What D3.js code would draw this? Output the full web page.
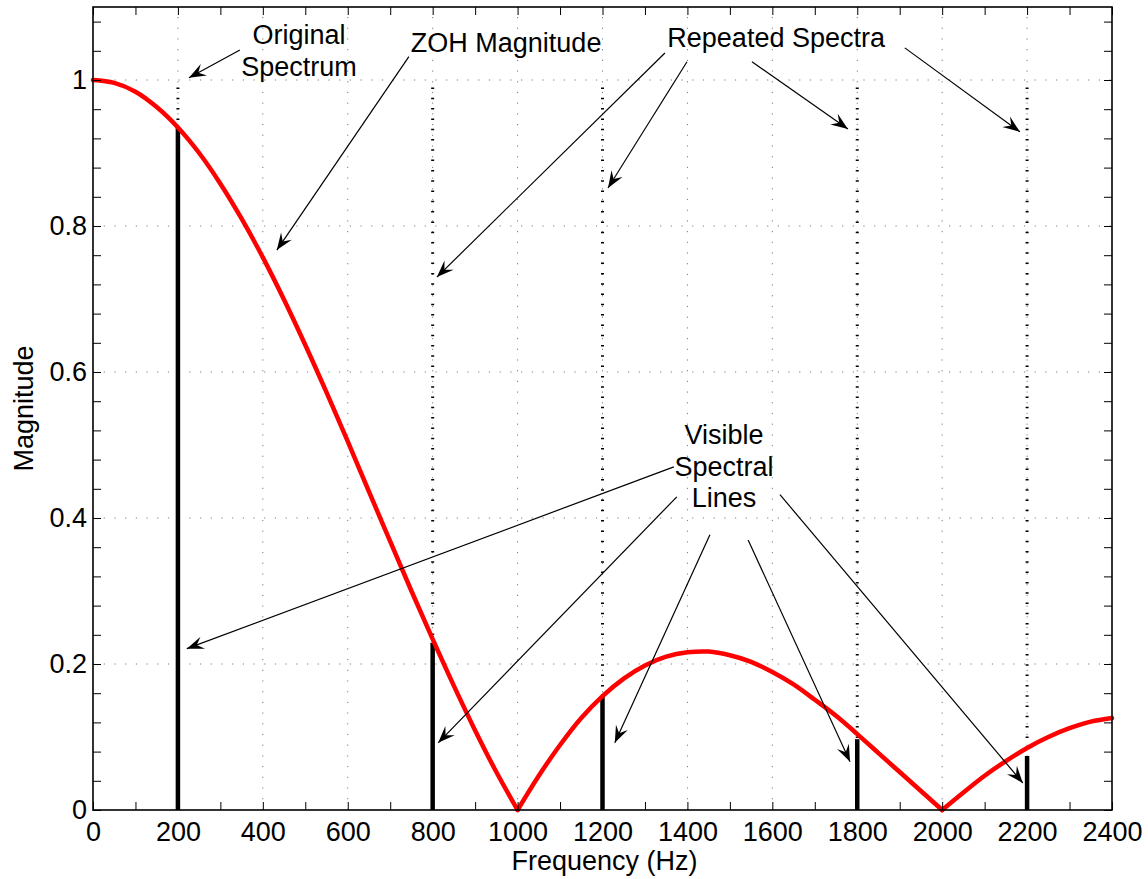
<!DOCTYPE html>
<html>
<head>
<meta charset="utf-8">
<script src="https://cdn.jsdelivr.net/npm/d3@7"></script>
<style>
  body { margin: 0; background: #fff; }
  svg { display: block; font-family: "Liberation Sans", Arial, sans-serif; }
</style>
</head>
<body>
<svg id="chart" width="1148" height="879"></svg>
<script>
const freqs = d3.range(0, 2401, 50);
const zohMagnitude = [
  1.000, 0.996, 0.984, 0.963, 0.935, 0.900, 0.858, 0.810, 0.757, 0.699,
  0.637, 0.572, 0.505, 0.436, 0.368, 0.300, 0.234, 0.170, 0.109, 0.052,
  0.000, 0.047, 0.089, 0.126, 0.156, 0.180, 0.198, 0.210, 0.216, 0.217,
  0.212, 0.203, 0.189, 0.172, 0.151, 0.129, 0.104, 0.078, 0.052, 0.026,
  0.000, 0.024, 0.047, 0.067, 0.085, 0.100, 0.112, 0.121, 0.126
];

const lineFreqs = [200, 800, 1200, 1800, 2200];
const lineHeights = [0.936, 0.229, 0.155, 0.097, 0.074];
const spectrumLevel = 1;

const xTickLabels = [0, 200, 400, 600, 800, 1000, 1200, 1400, 1600, 1800, 2000, 2200, 2400];
const yTickLabels = [0, 0.2, 0.4, 0.6, 0.8, 1];

// annotation layout, in data units
const labels = [
  { text: ["Original", "Spectrum"], f: 485, m: 1.049 },
  { text: ["ZOH Magnitude"], f: 973, m: 1.038 },
  { text: ["Repeated Spectra"], f: 1609, m: 1.045 },
  { text: ["Visible", "Spectral", "Lines"], f: 1486, m: 0.501 }
];
const arrows = [
  [346, 1.041, 226, 1.003],
  [744, 1.032, 433, 0.767],
  [1347, 1.037, 810, 0.730],
  [1399, 1.025, 1213, 0.852],
  [1552, 1.025, 1778, 0.933],
  [1912, 1.044, 2183, 0.929],
  [1368, 0.470, 221, 0.221],
  [1375, 0.429, 813, 0.092],
  [1453, 0.377, 1229, 0.092],
  [1543, 0.370, 1783, 0.066],
  [1618, 0.432, 2190, 0.037]
];

const margin = { top: 7, right: 36, bottom: 69, left: 93 };
const width = 1148, height = 879;
const fontSize = 27;

const svg = d3.select("#chart");

const x = d3.scaleLinear().domain([0, 2400]).range([margin.left, width - margin.right]);
const y = d3.scaleLinear().domain([0, 1.1]).range([height - margin.bottom, margin.top]);

const xTicks = d3.range(0, 25).map(i => i * 100);
const yTicks = d3.range(0, 28).map(i => +(i * 0.04).toFixed(2));
const isLabelX = d => xTickLabels.includes(d);
const isLabelY = d => yTickLabels.some(v => Math.abs(v - d) < 1e-6);

// grid
const grid = svg.append("g").attr("class", "grid")
  .attr("stroke", "#7a7a7a")
  .attr("stroke-width", 1)
  .attr("stroke-dasharray", "1.2 9.5");

grid.selectAll("line.gx")
  .data(xTickLabels.slice(1, -1))
  .join("line")
  .attr("class", "gx")
  .attr("x1", d => x(d)).attr("x2", d => x(d))
  .attr("y1", y(0)).attr("y2", y(1.1));

grid.selectAll("line.gy")
  .data(yTickLabels.slice(1))
  .join("line")
  .attr("class", "gy")
  .attr("x1", x(0)).attr("x2", x(2400))
  .attr("y1", d => y(d)).attr("y2", d => y(d));

// dotted repeated spectra, then the visible stems
svg.append("g")
  .selectAll("line")
  .data(lineFreqs)
  .join("line")
  .attr("x1", d => x(d)).attr("x2", d => x(d))
  .attr("y1", y(0)).attr("y2", y(spectrumLevel))
  .attr("stroke", "#000")
  .attr("stroke-width", 3)
  .attr("stroke-dasharray", "1.5 8.8");

svg.append("g")
  .selectAll("line")
  .data(lineFreqs)
  .join("line")
  .attr("x1", d => x(d)).attr("x2", d => x(d))
  .attr("y1", y(0)).attr("y2", (d, i) => y(lineHeights[i]))
  .attr("stroke", "#000")
  .attr("stroke-width", 4.5);

// ZOH magnitude, smoothed between the nulls so the notches stay sharp
const pts = zohMagnitude.map((m, i) => [freqs[i], m]);
const lobes = [];
let cur = [];
pts.forEach((p, i) => {
  cur.push(p);
  if (p[1] === 0 && i > 0) {
    lobes.push(cur);
    cur = [p];
  }
});
if (cur.length > 1) lobes.push(cur);

const line = d3.line()
  .x(d => x(d[0]))
  .y(d => y(d[1]))
  .curve(d3.curveCatmullRom.alpha(0.5));

svg.append("g")
  .selectAll("path")
  .data(lobes)
  .join("path")
  .attr("fill", "none")
  .attr("stroke", "#ff0000")
  .attr("stroke-width", 4.5)
  .attr("stroke-linejoin", "round")
  .attr("stroke-linecap", "round")
  .attr("d", line);

// axes
const tickLen = 8;

const xAxis = svg.append("g")
  .attr("transform", `translate(0,${y(0)})`)
  .call(d3.axisBottom(x).tickValues(xTicks)
    .tickFormat(d => isLabelX(d) ? d : "")
    .tickSizeInner(-tickLen).tickSizeOuter(0).tickPadding(12));

const xTop = svg.append("g")
  .attr("transform", `translate(0,${y(1.1)})`)
  .call(d3.axisTop(x).tickValues(xTicks).tickFormat("")
    .tickSizeInner(-tickLen).tickSizeOuter(0));

const yAxis = svg.append("g")
  .attr("transform", `translate(${x(0)},0)`)
  .call(d3.axisLeft(y).tickValues(yTicks)
    .tickFormat(d => isLabelY(d) ? String(+d.toFixed(1)) : "")
    .tickSizeInner(-tickLen).tickSizeOuter(0).tickPadding(6));

const yRight = svg.append("g")
  .attr("transform", `translate(${x(2400)},0)`)
  .call(d3.axisRight(y).tickValues(yTicks).tickFormat("")
    .tickSizeInner(-tickLen).tickSizeOuter(0));

[xAxis, xTop, yAxis, yRight].forEach(a => {
  a.select(".domain").remove();
  a.selectAll(".tick line").attr("stroke", "#000").attr("stroke-width", 1);
  a.selectAll("text")
    .attr("fill", "#000")
    .style("font-size", fontSize + "px")
    .style("font-family", "'Liberation Sans', Arial, sans-serif");
});

svg.append("rect")
  .attr("x", x(0)).attr("y", y(1.1))
  .attr("width", x(2400) - x(0))
  .attr("height", y(0) - y(1.1))
  .attr("fill", "none")
  .attr("stroke", "#000")
  .attr("stroke-width", 1.6);

svg.append("text")
  .attr("x", (x(0) + x(2400)) / 2 + 2)
  .attr("y", 870)
  .attr("text-anchor", "middle")
  .style("font-size", fontSize + "px")
  .text("Frequency (Hz)");

svg.append("text")
  .attr("transform", `translate(33,${(y(0) + y(1.1)) / 2}) rotate(-90)`)
  .attr("text-anchor", "middle")
  .style("font-size", fontSize + "px")
  .text("Magnitude");

// annotations
const notes = svg.append("g");

labels.forEach(l => {
  const t = notes.append("text")
    .attr("text-anchor", "middle")
    .style("font-size", fontSize + "px");
  l.text.forEach((s, i) => {
    t.append("tspan")
      .attr("x", x(l.f))
      .attr("y", y(l.m) + i * 31.5)
      .text(s);
  });
});

const headLen = 17, headHalf = 6.5;

arrows.forEach(([f1, m1, f2, m2]) => {
  const x1 = x(f1), y1 = y(m1), x2 = x(f2), y2 = y(m2);
  const ang = Math.atan2(y2 - y1, x2 - x1) * 180 / Math.PI;
  notes.append("line")
    .attr("x1", x1).attr("y1", y1)
    .attr("x2", x2).attr("y2", y2)
    .attr("stroke", "#000")
    .attr("stroke-width", 1.2);
  notes.append("path")
    .attr("transform", `translate(${x2},${y2}) rotate(${ang})`)
    .attr("d", `M0,0L${-headLen},${-headHalf}L${-headLen * 0.62},0L${-headLen},${headHalf}Z`)
    .attr("fill", "#000");
});
</script>
</body>
</html>
